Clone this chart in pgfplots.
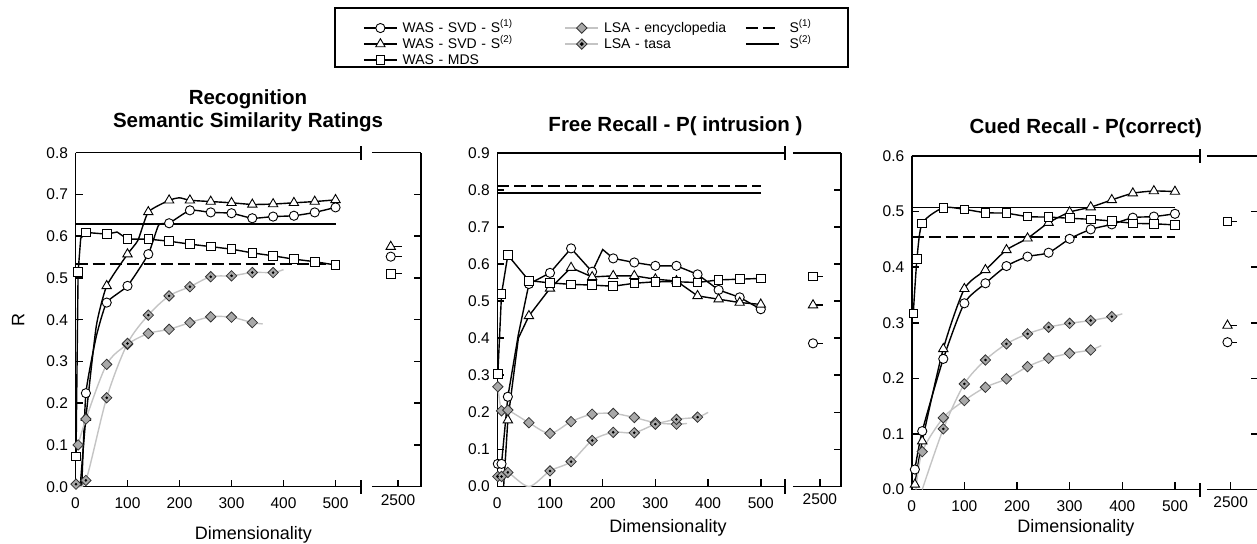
\documentclass[border=0pt]{standalone}
\usepackage{fontspec}
\setmainfont{Liberation Sans}
\usepackage{pgfplots}
\usepackage{pgfplotstable}
\pgfplotsset{compat=1.18}
\definecolor{lsaline}{HTML}{C4C4C4}
\definecolor{lsafill}{HTML}{A8A8A8}

% diamond marker of the LSA series
\pgfdeclareplotmark{lsadiamond}{%
  \pgfpathmoveto{\pgfqpoint{0pt}{\pgfplotmarksize}}%
  \pgfpathlineto{\pgfqpoint{\pgfplotmarksize}{0pt}}%
  \pgfpathlineto{\pgfqpoint{0pt}{-\pgfplotmarksize}}%
  \pgfpathlineto{\pgfqpoint{-\pgfplotmarksize}{0pt}}%
  \pgfpathclose
  \pgfusepathqfillstroke}

% LSA tasa series (drawn twice: diamonds, then the centre dots)
\pgfplotstableread{
x y
1 0.006
20 0.015
60 0.213
100 0.343
140 0.411
180 0.457
220 0.479
260 0.503
300 0.505
340 0.513
380 0.513
400 0.52
}\tasaA
\pgfplotstableread{
x y
1 0.027
8 0.027
20 0.038
60 0
100 0.042
140 0.067
180 0.124
220 0.146
260 0.145
300 0.168
340 0.181
380 0.187
400 0.20
}\tasaB
\pgfplotstableread{
x y
20 0
60 0.109
100 0.190
140 0.233
180 0.262
220 0.280
260 0.292
300 0.299
340 0.304
380 0.311
400 0.316
}\tasaC

\pgfplotsset{
  circ/.style={black, line width=1.4pt, mark=*, mark size=4.6pt,
    mark options={solid, fill=white, draw=black, line width=0.9pt}},
  tri/.style={black, line width=1.4pt, mark=triangle*, mark size=5.4pt,
    mark options={solid, fill=white, draw=black, line width=0.9pt}},
  sq/.style={black, line width=1.4pt, mark=square*, mark size=4.3pt,
    mark options={solid, fill=white, draw=black, line width=0.9pt}},
  enc/.style={lsaline, line width=1.4pt, mark=lsadiamond, mark size=5.2pt,
    mark options={solid, fill=lsafill, draw=black!80, line width=0.8pt}},
  tasaleg/.style={enc, legend image code/.code={%
    \draw[mark repeat=2,mark phase=2,##1] plot coordinates {(0pt,0pt) (16.5pt,0pt) (33pt,0pt)};
    \fill[black] (16.5pt,0pt) circle (1.1pt);}},
  dot/.style={only marks, mark=*, mark size=1.1pt, black, mark options={fill=black, draw=black}, forget plot},
  sone/.style={black, line width=1.6pt, dash pattern=on 12pt off 5pt},
  stwo/.style={black, line width=1.6pt},
  common/.style={
    scale only axis, anchor=south west, clip=false,
    tick align=inside, major tick length=7pt,
    axis line style={-, line width=1.6pt},
    every tick/.style={black, line width=1.6pt},
    tick label style={font=\fontsize{15.5}{18}\selectfont},
    /pgf/number format/assume math mode=true,
    /pgf/number format/1000 sep={},
    ytick distance=0.1, ymin=0,
  },
  panel/.style={common,
    axis x line*=bottom, axis y line*=left,
    xmin=0, xtick={0,100,...,500},
    xticklabel style={yshift=-7.5pt},
    yticklabel style={xshift=-4pt, /pgf/number format/.cd, fixed, fixed zerofill, precision=1},
  },
  seg/.style={common,
    axis x line*=bottom, axis y line*=right,
    xtick={2500}, yticklabels={},
    xticklabel style={yshift=-4pt},
  },
}

\begin{document}
\begin{tikzpicture}[x=1pt,y=1pt]
\path[use as bounding box] (0,0) rectangle (1257,543);

% ---------------- Recognition ----------------
\begin{axis}[panel, at={(75.5pt,56.3pt)}, width=285.5pt, height=334pt, xmax=549, ymax=0.8]
\addplot[sone, forget plot] coordinates {(0,0.533) (500,0.533)};
\addplot[stwo, forget plot] coordinates {(0,0.629) (500,0.629)};
\addplot[circ, smooth, tension=0.3, mark indices={2,4,5,6,8,9,10,11,12,13,14,15,16}, forget plot] coordinates {
 (12,0) (20,0.224) (40,0.36) (60,0.441) (100,0.481) (140,0.557) (160,0.627) (180,0.631) (220,0.662)
 (260,0.657) (300,0.655) (340,0.643) (380,0.647) (420,0.649) (460,0.657) (500,0.669)};
\addplot[tri, smooth, tension=0.3, mark indices={2,4,5,7,8,10,11,12,13,14,15,16,17}, forget plot] coordinates {
 (9,0) (20,0.165) (40,0.385) (60,0.481) (100,0.557) (120,0.59) (140,0.658) (180,0.686) (200,0.692)
 (220,0.686) (260,0.683) (300,0.680) (340,0.676) (380,0.677) (420,0.680) (460,0.683) (500,0.687)};
\addplot[sq, mark indices={1,2,4,5,7,8,9,10,11,12,13,14,15,16,17}, forget plot] coordinates {
 (1,0.072) (5,0.514) (10,0.595) (20,0.609) (60,0.605) (80,0.61) (100,0.593) (140,0.593) (180,0.588)
 (220,0.581) (260,0.575) (300,0.569) (340,0.560) (380,0.553) (420,0.545) (460,0.539) (500,0.531)};
\addplot[enc, smooth, mark indices={1,2,3,4,5,6,7,8,9,10}, forget plot] coordinates {
 (5,0.10) (20,0.162) (60,0.293) (100,0.341) (140,0.367) (180,0.377) (220,0.393) (260,0.407)
 (300,0.406) (340,0.393) (360,0.39)};
\addplot[enc, smooth, mark indices={1,2,3,4,5,6,7,8,9,10,11}, forget plot] table {\tasaA};
\addplot[dot, mark indices={1,2,3,4,5,6,7,8,9,10,11}] table {\tasaA};
\draw[line width=1.6pt] (rel axis cs:0,1) -- (rel axis cs:1,1);
\draw[line width=1.6pt] (rel axis cs:1,0) ++(0,-7pt) -- ++(0,14pt);
\draw[line width=1.6pt] (rel axis cs:1,1) ++(0,-7pt) -- ++(0,14pt);
\end{axis}
\begin{axis}[seg, at={(372pt,56.3pt)}, width=49pt, height=334pt, xmin=2450, xmax=2544, ymax=0.8]
\addplot[tri, mark indices={1}] coordinates {(2486,0.575) (2507,0.575)};
\addplot[circ, mark indices={1}] coordinates {(2486,0.551) (2507,0.551)};
\addplot[sq, mark indices={1}] coordinates {(2486,0.51) (2507,0.51)};
\draw[line width=1.6pt] (rel axis cs:0,1) -- (rel axis cs:1,1);
\draw[line width=1.6pt] (rel axis cs:0,0) ++(0,-7pt) -- ++(0,14pt);
\draw[line width=1.6pt] (rel axis cs:0,1) ++(0,-7pt) -- ++(0,14pt);
\end{axis}

% ---------------- Free recall ----------------
\begin{axis}[panel, at={(497.3pt,56.5pt)}, width=287.7pt, height=333.8pt, xmax=546, ymax=0.9,
  legend columns=3, legend cell align=left,
  legend style={at={(-0.4668,1.398)}, anchor=north west, draw=none, fill=none, inner sep=0pt,
    font=\fontsize{14}{16}\selectfont, row sep=0pt, column sep=0pt,
    nodes={inner xsep=5pt, inner ysep=1.5pt, text height=10.5pt, text depth=2.5pt, align=left},
    /tikz/column 2/.style={nodes={text width=157pt}},
    /tikz/column 4/.style={nodes={text width=136pt}},
    /tikz/column 6/.style={nodes={inner xsep=10pt}}},
  legend image code/.code={\draw[mark repeat=2,mark phase=2,#1] plot coordinates {(0pt,0pt) (16.5pt,0pt) (33pt,0pt)};}]
\addlegendimage{circ}\addlegendentry{WAS - SVD - S\textsuperscript{(1)}}
\addlegendimage{enc}\addlegendentry{LSA - encyclopedia}
\addlegendimage{sone}\addlegendentry{S\textsuperscript{(1)}}
\addlegendimage{tri}\addlegendentry{WAS - SVD - S\textsuperscript{(2)}}
\addlegendimage{tasaleg}\addlegendentry{LSA - tasa}
\addlegendimage{stwo}\addlegendentry{S\textsuperscript{(2)}}
\addlegendimage{sq}\addlegendentry{WAS - MDS}
\addplot[sone, forget plot] coordinates {(0,0.811) (500,0.811)};
\addplot[stwo, forget plot] coordinates {(0,0.792) (500,0.792)};
\addplot[circ, mark indices={1,2,3,5,6,7,8,10,11,12,13,14,15,16,17}, forget plot] coordinates {
 (1,0.061) (8,0.061) (20,0.242) (40,0.41) (60,0.546) (100,0.576) (140,0.642) (180,0.579) (200,0.639)
 (220,0.615) (260,0.604) (300,0.595) (340,0.595) (380,0.572) (420,0.530) (460,0.510) (500,0.478)};
\addplot[tri, mark indices={2,4,5,6,7,8,9,10,11,12,13,14,15}, forget plot] coordinates {
 (12,0) (20,0.179) (40,0.40) (60,0.46) (100,0.534) (140,0.590) (180,0.565) (220,0.568) (260,0.568)
 (300,0.559) (340,0.554) (380,0.514) (420,0.505) (460,0.496) (500,0.491)};
\addplot[sq, forget plot] coordinates {
 (1,0.303) (8,0.519) (20,0.624) (60,0.555) (100,0.549) (140,0.545) (180,0.543) (220,0.540) (260,0.548)
 (300,0.552) (340,0.552) (380,0.550) (420,0.557) (460,0.559) (500,0.561)};
\addplot[enc, smooth, mark indices={1,2,3,4,5,6,7,8,9,10,11}, forget plot] coordinates {
 (1,0.269) (8,0.204) (20,0.206) (60,0.172) (100,0.143) (140,0.175) (180,0.195) (220,0.197)
 (260,0.186) (300,0.172) (340,0.168) (360,0.17)};
\addplot[enc, smooth, mark indices={1,2,3,5,6,7,8,9,10,11,12}, forget plot] table {\tasaB};
\addplot[dot, mark indices={1,2,3,5,6,7,8,9,10,11,12}] table {\tasaB};
\draw[line width=1.6pt] (rel axis cs:0,1) -- (rel axis cs:1,1);
\draw[line width=1.6pt] (rel axis cs:1,0) ++(0,-7pt) -- ++(0,14pt);
\draw[line width=1.6pt] (rel axis cs:1,1) ++(0,-7pt) -- ++(0,14pt);
\end{axis}
\begin{axis}[seg, at={(793pt,56.5pt)}, width=48pt, height=333.8pt, xmin=2449, xmax=2540, ymax=0.9]
\addplot[sq, mark indices={1}] coordinates {(2487,0.566) (2505,0.566)};
\addplot[tri, mark indices={1}] coordinates {(2487,0.489) (2505,0.489)};
\addplot[circ, mark indices={1}] coordinates {(2487,0.386) (2505,0.386)};
\draw[line width=1.6pt] (rel axis cs:0,1) -- (rel axis cs:1,1);
\draw[line width=1.6pt] (rel axis cs:0,0) ++(0,-7pt) -- ++(0,14pt);
\draw[line width=1.6pt] (rel axis cs:0,1) ++(0,-7pt) -- ++(0,14pt);
\end{axis}

% ---------------- Cued recall ----------------
\begin{axis}[panel, at={(911.7pt,53.5pt)}, width=288.3pt, height=333.5pt, xmax=547.6, ymax=0.6]
\addplot[sone, forget plot] coordinates {(0,0.454) (500,0.454)};
\addplot[stwo, forget plot] coordinates {(0,0.507) (500,0.507)};
\addplot[circ, smooth, tension=0.4, forget plot] coordinates {
 (6,0.036) (20,0.105) (60,0.235) (100,0.335) (140,0.371) (180,0.402) (220,0.419) (260,0.426)
 (300,0.451) (340,0.468) (380,0.477) (420,0.489) (460,0.491) (500,0.496)};
\addplot[tri, smooth, tension=0.4, forget plot] coordinates {
 (6,0.009) (20,0.087) (60,0.253) (100,0.361) (140,0.395) (180,0.431) (220,0.452) (260,0.480)
 (300,0.499) (340,0.508) (380,0.521) (420,0.533) (460,0.537) (500,0.536)};
\addplot[sq, smooth, tension=0.4, forget plot] coordinates {
 (3,0.317) (10,0.415) (20,0.479) (60,0.507) (100,0.504) (140,0.498) (180,0.497) (220,0.491)
 (260,0.490) (300,0.488) (340,0.486) (380,0.483) (420,0.479) (460,0.478) (500,0.476)};
\addplot[enc, smooth, mark indices={2,3,4,5,6,7,8,9,10}, forget plot] coordinates {
 (8,0) (20,0.068) (60,0.129) (100,0.160) (140,0.184) (180,0.199) (220,0.221) (260,0.236)
 (300,0.245) (340,0.251) (360,0.259)};
\addplot[enc, smooth, mark indices={2,3,4,5,6,7,8,9,10}, forget plot] table {\tasaC};
\addplot[dot, mark indices={2,3,4,5,6,7,8,9,10}] table {\tasaC};
\draw[line width=1.6pt] (rel axis cs:0,1) -- (rel axis cs:1,1);
\draw[line width=1.6pt] (rel axis cs:1,0) ++(0,-7pt) -- ++(0,14pt);
\draw[line width=1.6pt] (rel axis cs:1,1) ++(0,-7pt) -- ++(0,14pt);
\end{axis}
\begin{axis}[seg, at={(1207pt,53.5pt)}, width=51pt, height=333.5pt, xmin=2455, xmax=2552, ymax=0.6]
\addplot[sq, mark indices={1}] coordinates {(2494,0.482) (2513,0.482)};
\addplot[tri, mark indices={1}] coordinates {(2494,0.295) (2513,0.295)};
\addplot[circ, mark indices={1}] coordinates {(2494,0.265) (2513,0.265)};
\draw[line width=1.6pt] (rel axis cs:0,1) -- (rel axis cs:1,1);
\draw[line width=1.6pt] (rel axis cs:0,0) ++(0,-7pt) -- ++(0,14pt);
\draw[line width=1.6pt] (rel axis cs:0,1) ++(0,-7pt) -- ++(0,14pt);
\end{axis}

% titles, axis labels, legend frame
\begin{scope}[font=\bfseries\fontsize{20.5}{24}\selectfont]
\node[anchor=base] at (248,438) {Recognition};
\node[anchor=base] at (248,415.7) {Semantic Similarity Ratings};
\node[anchor=base] at (675.5,411.3) {Free Recall - P( intrusion )};
\node[anchor=base] at (1085.7,409.7) {Cued Recall - P(correct)};
\end{scope}
\begin{scope}[font=\fontsize{18}{21}\selectfont]
\node[anchor=base] at (253.3,4) {Dimensionality};
\node[anchor=base] at (668,11) {Dimensionality};
\node[anchor=base] at (1075.8,11) {Dimensionality};
\node[rotate=90] at (18.3,223) {R};
\end{scope}
\draw[line width=1.3pt] (335,476) rectangle (848,535);
\end{tikzpicture}
\end{document}
